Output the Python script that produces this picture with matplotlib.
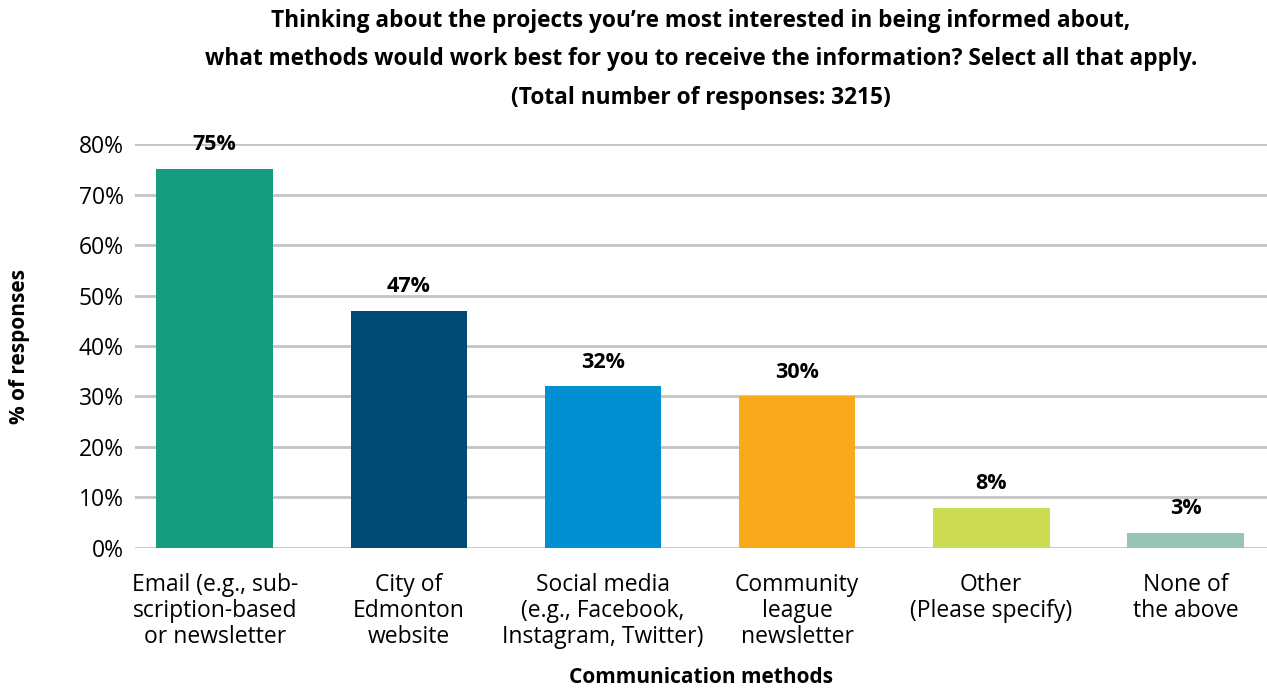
import matplotlib
matplotlib.use("Agg")
import matplotlib.pyplot as plt

# survey results
methods = [
    "Email (e.g., sub-\nscription-based\nor newsletter",
    "City of\nEdmonton\nwebsite",
    "Social media\n(e.g., Facebook,\nInstagram, Twitter)",
    "Community\nleague\nnewsletter",
    "Other\n(Please specify)",
    "None of\nthe above",
]
percents = [75, 47, 32, 30, 8, 3]
colors = ["#149e7f", "#004a76", "#008fd0", "#f9aa1c", "#cbdc53", "#97c5b5"]
yticks = [0, 10, 20, 30, 40, 50, 60, 70, 80]

title = ("Thinking about the projects you\u2019re most interested in being informed about,\n"
         "what methods would work best for you to receive the information? Select all that apply.\n"
         "(Total number of responses: 3215)")

plt.rcParams['font.family'] = ['Open Sans', 'DejaVu Sans']

fig = plt.figure(figsize=(12.67, 6.90), dpi=100)
ax = fig.add_axes([0.1066, 0.2058, 0.8934, 0.5855])

pos = list(range(len(methods)))
bars = ax.bar(pos, percents, width=0.6, color=colors, zorder=3)
for b, v in zip(bars, percents):
    ax.annotate(f"{v}%", (b.get_x() + b.get_width() / 2, v),
                xytext=(0, 10), textcoords="offset points",
                ha="center", va="bottom", fontsize=15.5, fontweight="bold")

ax.set_xlim(-0.41, 5.42)
ax.set_ylim(0, 80)
ax.set_yticks(yticks)
ax.set_yticklabels([f"{t}%" for t in yticks], fontsize=16.5)
ax.set_xticks(pos)
ax.set_xticklabels(methods, fontsize=16.5, linespacing=1.12)
ax.tick_params(axis="both", length=0, pad=8)
ax.tick_params(axis="x", pad=18)
ax.grid(axis="y", color="#c4c4c4", linewidth=2, zorder=0)
for s in ax.spines.values():
    s.set_visible(False)

ax.set_ylabel("% of responses", fontsize=15, fontweight="bold", labelpad=35)
ax.set_xlabel("Communication methods", fontsize=15, fontweight="bold", labelpad=13)
ax.set_title(title, fontsize=16.3, fontweight="bold", linespacing=1.8, pad=29)

fig.savefig("out.png", dpi=100)
